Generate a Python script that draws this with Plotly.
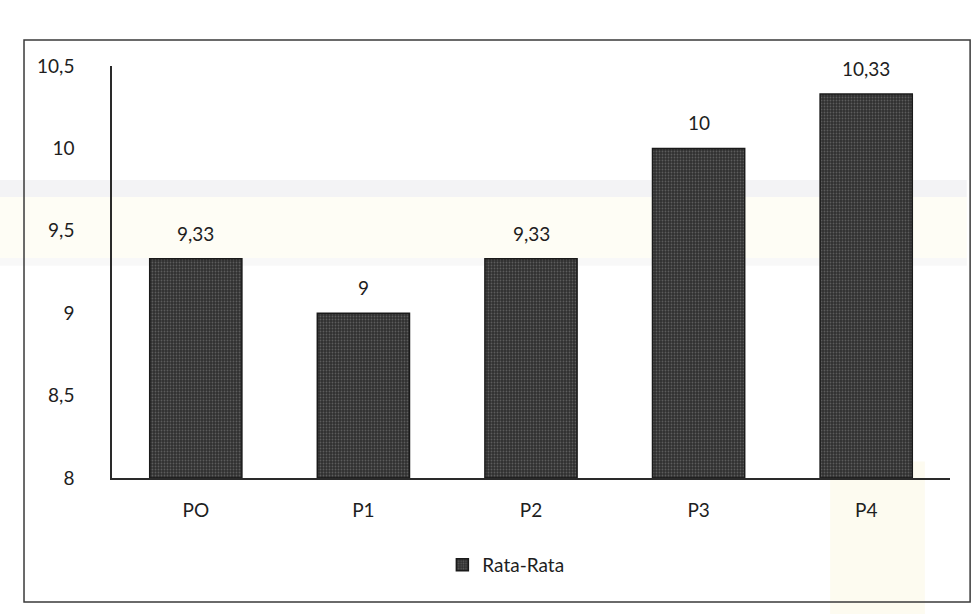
import plotly.graph_objects as go

# Mean values per treatment group
categories = ["PO", "P1", "P2", "P3", "P4"]
rata_rata = [9.33, 9, 9.33, 10, 10.33]
y_ticks = [8, 8.5, 9, 9.5, 10, 10.5]


def fmt(v):
    s = f"{v:.2f}".rstrip("0").rstrip(".")
    return s.replace(".", ",")


fig = go.Figure()
fig.add_trace(go.Bar(
    x=categories,
    y=[v - 8 for v in rata_rata],
    base=8,
    name="Rata-Rata",
    marker=dict(
        color="#333333",
        line=dict(color="#1a1a1a", width=1.5),
        pattern=dict(shape=".", fgcolor="#5c5c5c", bgcolor="#303030",
                     size=3, solidity=0.3, fillmode="replace"),
    ),
    hoverinfo="skip",
))

# value labels above each bar
for c, v in zip(categories, rata_rata):
    fig.add_annotation(x=c, y=v, text=fmt(v), showarrow=False,
                       yanchor="bottom", yshift=12,
                       font=dict(size=19, color="#1e1e1e"))

# faint background bands of the page watermark
bands = [
    dict(x0=-0.14, x1=1.02, y0=0.682, y1=0.723, fillcolor="#f3f3f5"),
    dict(x0=-0.14, x1=1.02, y0=0.534, y1=0.682, fillcolor="#fefdf5"),
    dict(x0=-0.14, x1=1.02, y0=0.515, y1=0.534, fillcolor="#f8f8f8"),
    dict(x0=0.857, x1=0.970, y0=-0.33, y1=0.04, fillcolor="#fdfbf0"),
]
for b in bands:
    fig.add_shape(type="rect", xref="paper", yref="paper", layer="below",
                  line=dict(width=0), **b)

# outer frame of the chart
fig.add_shape(type="rect", xref="paper", yref="paper",
              x0=-0.105, x1=1.024, y0=-0.301, y1=1.063,
              line=dict(color="#3a3a3a", width=1.5))

fig.update_layout(
    width=976, height=614,
    margin=dict(l=112, r=26, t=66, b=136),
    paper_bgcolor="white", plot_bgcolor="rgba(0,0,0,0)",
    separators=",.",
    font=dict(family="Lato, Open Sans, sans-serif", color="#1e1e1e", size=19),
    bargap=0.45,
    showlegend=True,
    legend=dict(orientation="h", x=0.47, xanchor="center", y=-0.211,
                yanchor="middle", font=dict(size=19), itemwidth=30,
                bgcolor="rgba(0,0,0,0)"),
    xaxis=dict(showline=True, linecolor="#2a2a2a", linewidth=1.5,
               ticks="", tickfont=dict(size=19), showgrid=False,
               ticklabelstandoff=14),
    yaxis=dict(range=[8, 10.5], tickvals=y_ticks,
               ticktext=[fmt(t) for t in y_ticks],
               showline=True, linecolor="#2a2a2a", linewidth=1.5,
               ticks="", ticklabelstandoff=32, showgrid=False,
               zeroline=False, tickfont=dict(size=19)),
)

fig.write_html("out.html")
